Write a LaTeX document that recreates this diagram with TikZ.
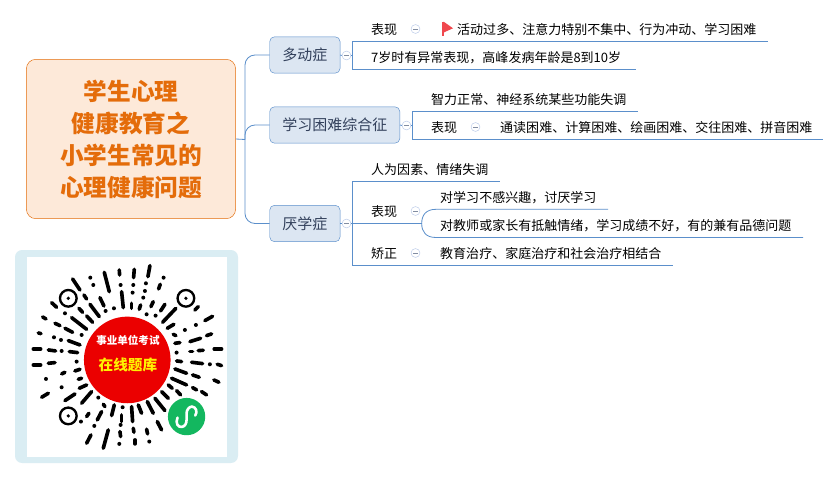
\documentclass[tikz,border=0pt]{standalone}
\usepackage{fontspec}
\setmainfont{Noto Sans CJK SC}
\usetikzlibrary{positioning}
\definecolor{linkblue}{HTML}{5B8FCB}
\definecolor{topicfill}{HTML}{DCE6F2}
\definecolor{topicink}{HTML}{33415C}
\definecolor{rootfill}{HTML}{FDE9D9}
\definecolor{rootline}{HTML}{E46C0A}
\definecolor{framefill}{HTML}{DAEDF3}
\definecolor{wxgreen}{HTML}{13B75F}
\definecolor{flagred}{HTML}{F0484E}
\definecolor{foldblue}{HTML}{B9C9E8}
\tikzset{
  topic/.style={draw=linkblue,fill=topicfill,rounded corners=4pt,text=topicink,font=\fontsize{12.8}{14}\selectfont,minimum height=31pt,inner sep=0pt,anchor=west},
  leaf/.style={font=\fontsize{11.1}{13}\selectfont,inner sep=0pt,anchor=west,text=black},
  fold/.style={circle,draw=foldblue,fill=white,minimum size=7.6pt,inner sep=0pt,
    path picture={\draw[foldblue!70!black,line width=0.5pt] ([xshift=-2pt]path picture bounding box.center) -- ([xshift=2pt]path picture bounding box.center);}},
  link/.style={draw=linkblue,line width=0.7pt}
}
\begin{document}
\begin{tikzpicture}[x=0.03cm,y=-0.03cm]
  \useasboundingbox (0,0) rectangle (840,479);
  \fill[white] (0,0) rectangle (840,479);
  % root
  \node[draw=rootline,fill=rootfill,rounded corners=8pt,minimum width=178.5pt,minimum height=136pt,inner sep=0pt,text=rootline,align=center,font=\fontsize{20.2}{27.5}\bfseries\selectfont] (root) at (131,139) {\rule{0pt}{0.9em}学生心理\\健康教育之\\小学生常见的\\心理健康问题};
  % topics
  \node[topic,minimum width=60pt] (hyper) at (269.5,55) {多动症};
  \node[topic,minimum width=111pt] (study) at (269.5,125) {学习困难综合征};
  \node[topic,minimum width=60pt] (bored) at (269.5,223.5) {厌学症};
  \coordinate (trunk) at (245,139.5);
  \draw[link] (root.east) -- (trunk);
  \draw[link,rounded corners=8.5pt] (trunk) |- (hyper.west);
  \draw[link,rounded corners=8.5pt] (trunk) |- (study.west);
  \draw[link,rounded corners=8.5pt] (trunk) |- (bored.west);
  % branch one
  \node[fold] (f1) at (346.5,55.5) {};
  \node[leaf] (a1) at (371,29.5) {表现};
  \node[fold] (f1a) at (415.5,29) {};
  \fill[flagred] (441.7,36) rectangle (443.7,21.7);
  \fill[flagred] (443.7,21.7) -- (453,28.3) -- (443.7,32.5) -- cycle;
  \node[leaf] (a2) at (457,29.5) {活动过多、注意力特别不集中、行为冲动、学习困难};
  \node[leaf] (a3) at (371,57.5) {7岁时有异常表现，高峰发病年龄是8到10岁};
  \coordinate (a2end) at (767.7,41.3);
  \coordinate (a3end) at (635.7,69.3);
  \coordinate (a2top) at (352.5,41.3);
  \coordinate (a3top) at (352.5,69.3);
  \coordinate (a0) at (352.5,55.5);
  \draw[link] (hyper.east) -- (f1.west);
  \draw[link] (f1.east) -- (a0);
  \draw[link] (a2end) -- (a2top) -- (a3top) -- (a3end);
  % branch two
  \node[fold] (f2) at (406.5,125.5) {};
  \node[leaf] (b1) at (431,99.5) {智力正常、神经系统某些功能失调};
  \node[leaf] (b2) at (431,127.5) {表现};
  \node[fold] (f2a) at (475.5,127) {};
  \node[leaf] (b3) at (500,127.5) {通读困难、计算困难、绘画困难、交往困难、拼音困难};
  \coordinate (b1end) at (637.7,111);
  \coordinate (b3end) at (823,139);
  \coordinate (b1top) at (412.5,111);
  \coordinate (b3top) at (412.5,139);
  \coordinate (b0) at (412.5,125.5);
  \draw[link] (study.east) -- (f2.west);
  \draw[link] (f2.east) -- (b0);
  \draw[link] (b1end) -- (b1top) -- (b3top) -- (b3end);
  % branch three
  \node[fold] (f3) at (346.5,223.5) {};
  \node[leaf] (c1) at (371,169.5) {人为因素、情绪失调};
  \node[leaf] (c2) at (371,211.5) {表现};
  \node[fold] (f3a) at (415.5,211) {};
  \node[leaf] (c3) at (440,197.5) {对学习不感兴趣，讨厌学习};
  \node[leaf] (c4) at (440,225.5) {对教师或家长有抵触情绪，学习成绩不好，有的兼有品德问题};
  \node[leaf] (c5) at (371,253.5) {矫正};
  \node[fold] (f3b) at (415.5,253) {};
  \node[leaf] (c6) at (440,253.5) {教育治疗、家庭治疗和社会治疗相结合};
  \coordinate (c1end) at (499.5,181);
  \coordinate (c6end) at (672.7,265);
  \coordinate (c1top) at (352.5,181);
  \coordinate (c6top) at (352.5,265);
  \coordinate (c0) at (352.5,223.5);
  \coordinate (fork) at (421.7,223.5);
  \coordinate (c3end) at (608,209.3);
  \coordinate (c4end) at (803,237.5);
  \draw[link] (bored.east) -- (f3.west);
  \draw[link] (f3.east) -- (fork);
  \draw[link] (c1end) -- (c1top) -- (c6top) -- (c6end);
  \draw[link] (fork) .. controls (421.7,215) and (426,209.3) .. (436,209.3) -- (c3end);
  \draw[link] (fork) .. controls (421.7,232) and (426,237.5) .. (436,237.5) -- (c4end);
  % code
  \fill[framefill,rounded corners=6pt] (15,250) rectangle (238,463);
  \fill[white] (26.7,256.7) rectangle (226.7,456.7);
  \begin{scope}[shift={(10,245)},x=0.01cm,y=-0.01cm]
    \foreach \x/\y in {175/160,528/160,175/513}{
      \draw[line width=2pt] (\x,\y) circle (25);
      \fill (\x,\y) circle (5.5);
    }
    \foreach \a/\b/\c/\d in {
      420/62/414/95, 373/73/371/98, 328/75/329/90, 283/82/298/140, 188/102/210/135,
      451/118/446/132, 335/140/340/188, 365/175/365/190, 392/180/388/193,
      430/170/423/185, 465/178/452/198, 498/190/458/232, 565/185/555/195,
      608/214/585/227, 222/150/230/162, 125/173/140/187, 240/178/268/215,
      270/158/282/183, 207/190/218/202, 230/213/248/232,
      98/216/108/222, 185/218/230/253, 135/235/150/242, 165/250/188/262,
      85/264/93/266, 175/287/210/300,
      70/312/92/312, 115/315/137/318, 178/320/203/323,
      70/360/92/360, 115/355/135/353, 155/387/165/382, 195/378/210/373,
      205/403/215/400, 95/457/115/445, 165/467/195/447, 208/430/230/420,
      215/475/245/440, 285/485/280/478, 262/525/275/500, 230/515/237/505,
      305/512/313/480, 335/510/335/530, 365/485/368/530, 385/480/395/505,
      412/470/430/505, 435/460/465/497, 455/440/475/460, 475/420/487/430,
      500/437/512/450, 548/428/560/435, 575/440/590/450, 485/400/530/420,
      495/372/530/385, 548/390/568/397, 612/405/627/412, 622/358/635/362,
      545/352/578/356, 500/348/515/350, 540/320/548/320, 565/317/580/316,
      613/312/635/312, 495/295/510/293, 540/290/572/280, 590/272/605/267,
      490/268/498/272, 472/250/492/238, 230/595/243/570, 280/610/295/555,
      330/560/332/575, 370/550/372/562, 375/585/375/597, 410/553/413/567,
      442/530/455/555
    }{
      \draw[line width=3.1pt,line cap=round] (\a,\b) -- (\c,\d);
    }
    \foreach \x/\y in {
      241/98, 250/120, 461/98, 408/115, 370/120, 332/120, 405/138, 368/143, 400/158,
      312/190, 287/198, 410/208, 437/212, 165/205, 215/270, 132/277, 153/285, 155/318,
      200/350, 108/402, 155/427, 265/458, 213/530, 338/487, 253/543, 328/597, 418/590,
      600/358, 500/323, 525/255, 558/240, 332/540
    }{
      \fill (\x,\y) circle (6);
    }
    \fill[red!92!black] (352,345) circle (130);
    \node[text=white,font=\fontsize{9}{10}\bfseries\selectfont,inner sep=0pt] (codeup) at (354,287) {事业单位考试};
    \node[text=yellow,font=\fontsize{12.5}{14}\bfseries\selectfont,inner sep=0pt] (codedown) at (354,360) {在线题库};
    \fill[wxgreen] (530,515) circle (56);
    \draw[white,line width=2.2pt,line cap=round] (503,518) .. controls (495,535) and (505,548) .. (516,546) .. controls (525,545) and (530,535) .. (530,525) -- (530,505) .. controls (530,495) and (538,485) .. (546,485) .. controls (558,486) and (564,500) .. (556,512);
  \end{scope}
\end{tikzpicture}
\end{document}
